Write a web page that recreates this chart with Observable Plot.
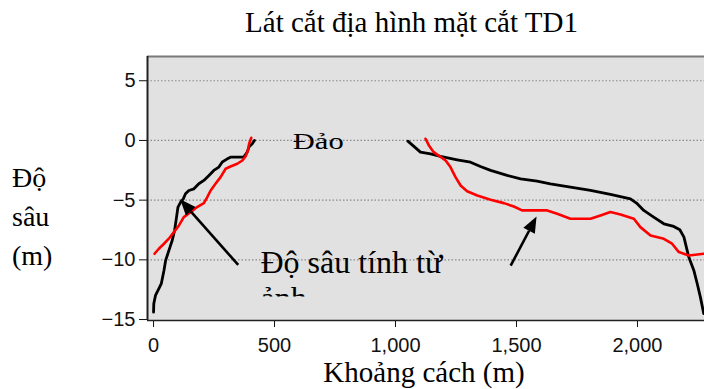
<!DOCTYPE html>
<html>
<head>
<meta charset="utf-8">
<script src="https://cdn.jsdelivr.net/npm/d3@7"></script>
<script src="https://cdn.jsdelivr.net/npm/@observablehq/plot@0.6"></script>
<style>
  body { margin: 0; background: #fff; }
  #wrap { position: relative; width: 704px; height: 389px; overflow: hidden; background: #fff; }
  .serif { position: absolute; font-family: "Liberation Serif", "Times New Roman", serif; color: #000; white-space: nowrap; }
  #title { left: 0; width: 823px; text-align: center; top: 8px; font-size: 29px; line-height: 29px; }
  #xlabel { left: 0; width: 848px; text-align: center; top: 358px; font-size: 29px; line-height: 28px; }
  #ylabel { left: 12px; top: 158px; font-size: 28px; line-height: 39px; }
  #chart { position: absolute; left: 0; top: 0; }
  .serif-svg { font-family: "Liberation Serif", "Times New Roman", serif !important; }
</style>
</head>
<body>
<div id="wrap">
  <div id="chart"></div>
  <div id="title" class="serif">Lát cắt địa hình mặt cắt TD1</div>
  <div id="xlabel" class="serif">Khoảng cách (m)</div>
  <div id="ylabel" class="serif">Độ<br>sâu<br>(m)</div>
</div>
<script>
// ---- data (distance in m, depth in m) ----
const blackLeftX = [0, 1, 8, 22, 32, 43, 50, 59, 68, 77, 87, 95, 101, 112, 123, 132, 146, 167, 187, 208, 229, 249, 270, 284, 305, 318, 373, 387, 394, 408, 417];
const blackLeftY = [-14.38, -13.68, -12.98, -12.42, -12.0, -10.89, -10.05, -9.49, -8.93, -8.38, -7.54, -6.42, -5.58, -5.16, -4.89, -4.47, -4.19, -4.05, -3.63, -3.35, -2.93, -2.51, -2.23, -1.81, -1.54, -1.40, -1.40, -0.98, -0.56, -0.28, 0];

const redLeftX = [4, 22, 43, 63, 84, 105, 125, 153, 180, 208, 222, 236, 256, 277, 298, 318, 346, 367, 380, 390, 395, 404];
const redLeftY = [-9.49, -9.07, -8.65, -8.23, -7.68, -7.12, -6.42, -6.0, -5.58, -5.25, -4.75, -4.19, -3.63, -3.07, -2.37, -2.18, -1.95, -1.68, -1.34, -0.84, -0.28, 0.22];

const blackRightX = [1051, 1076, 1103, 1145, 1186, 1255, 1310, 1351, 1393, 1461, 1517, 1585, 1640, 1723, 1806, 1888, 1971, 1999, 2026, 2067, 2109, 2150, 2175, 2192, 2212, 2233, 2247, 2260, 2274];
const blackRightY = [-0.06, -0.5, -0.98, -1.12, -1.34, -1.62, -1.82, -2.18, -2.51, -2.93, -3.21, -3.41, -3.63, -3.91, -4.19, -4.52, -4.89, -5.3, -5.86, -6.42, -6.98, -7.2, -7.48, -8.1, -9.77, -10.89, -12.0, -13.12, -14.51];

const redRightX = [1124, 1138, 1158, 1207, 1227, 1248, 1269, 1296, 1338, 1393, 1448, 1489, 1523, 1627, 1668, 1723, 1806, 1847, 1888, 1930, 1985, 2012, 2054, 2109, 2143, 2171, 2212, 2274];
const redRightY = [0.14, -0.42, -0.98, -1.68, -2.23, -3.07, -3.77, -4.25, -4.61, -4.97, -5.25, -5.53, -5.86, -5.86, -6.14, -6.56, -6.56, -6.28, -6.0, -6.2, -6.56, -7.26, -7.96, -8.24, -8.65, -9.35, -9.63, -9.49];

const xTicks = [0, 500, 1000, 1500, 2000];
const yTicks = [5, 0, -5, -10, -15];
const gridY = [5, 0, -5, -10];

// annotation arrows (tail -> tip), in data units
const arrowTailX = [352, 1478];
const arrowTailY = [-10.47, -10.53];
const arrowTipX = [112, 1585];
const arrowTipY = [-4.97, -6.42];

const islandLabel = "Đảo";
const annotLine1 = "Độ sâu tính từ";
const annotLine2 = "ảnh";

const xDomain = [-25, 2277];
const yDomain = [-15.08, 7.03];

const toRows = (xs, ys) => xs.map((x, i) => ({x, y: ys[i]}));

const arrowMark = (index, scales) => {
  const g = d3.create("svg:g");
  arrowTailX.forEach((_, i) => {
    const x1 = scales.x(arrowTailX[i]), y1 = scales.y(arrowTailY[i]);
    const x2 = scales.x(arrowTipX[i]), y2 = scales.y(arrowTipY[i]);
    const a = Math.atan2(y2 - y1, x2 - x1), L = 16, W = 6.5;
    const bx = x2 - L * Math.cos(a), by = y2 - L * Math.sin(a);
    g.append("line").attr("x1", x1).attr("y1", y1).attr("x2", bx).attr("y2", by)
      .attr("stroke", "#000").attr("stroke-width", 2.6);
    g.append("path")
      .attr("d", `M${x2},${y2}L${bx + W * Math.sin(a)},${by - W * Math.cos(a)}L${bx - W * Math.sin(a)},${by + W * Math.cos(a)}Z`)
      .attr("fill", "#000");
  });
  return g.node();
};

const islandX = 680, islandY = -0.75;

const chart = Plot.plot({
  width: 704,
  height: 389,
  marginLeft: 147,
  marginRight: 0,
  marginTop: 56,
  marginBottom: 69,
  style: {background: "transparent", fontFamily: "'Liberation Sans', Arial, sans-serif", fontSize: "20px", color: "#111"},
  x: {domain: xDomain, ticks: xTicks, tickFormat: d3.format(","), tickSize: 7, tickPadding: 10, label: null},
  y: {domain: yDomain, ticks: yTicks, tickSize: 8, tickPadding: 4, label: null},
  marks: [
    Plot.frame({fill: "#e1e1e1"}),
    Plot.ruleY(gridY, {stroke: "#8a8a8a", strokeDasharray: "1.5,2", strokeWidth: 1.2}),
    Plot.line(toRows(blackLeftX, blackLeftY), {x: "x", y: "y", stroke: "#000", strokeWidth: 2.8, clip: true}),
    Plot.line(toRows(redLeftX, redLeftY), {x: "x", y: "y", stroke: "#ff0000", strokeWidth: 2.6, clip: true}),
    Plot.line(toRows(blackRightX, blackRightY), {x: "x", y: "y", stroke: "#000", strokeWidth: 2.8, clip: true}),
    Plot.line(toRows(redRightX, redRightY), {x: "x", y: "y", stroke: "#ff0000", strokeWidth: 2.6, clip: true}),
    Plot.ruleY([yDomain[1]], {stroke: "#7a7a7a", strokeWidth: 2}),
    Plot.ruleX([xDomain[0]], {stroke: "#222", strokeWidth: 2}),
    Plot.ruleY([yDomain[0]], {stroke: "#222", strokeWidth: 1.5}),
    Plot.text([islandLabel], {x: islandX, y: islandY, text: d => d, fontSize: 23, fill: "#000", lineAnchor: "bottom", textAnchor: "middle"}),
    Plot.text([annotLine1], {x: 442, y: -11.06, text: d => d, fontSize: 32, fill: "#000", lineAnchor: "bottom", textAnchor: "start"}),
    Plot.text([annotLine2], {x: 442, y: -14.15, text: d => d, fontSize: 32, fill: "#000", lineAnchor: "bottom", textAnchor: "start"}),
    arrowMark
  ]
});

document.getElementById("chart").appendChild(chart);

const svg = d3.select(chart);
const byText = (s) => svg.selectAll("text").filter(function() { return this.textContent === s; });

[islandLabel, annotLine1, annotLine2].forEach(s => {
  byText(s).classed("serif-svg", true)
    .style("font-family", "'Liberation Serif', 'Times New Roman', serif");
});

// stretch island label horizontally like the reference
const cx = chart.scale("x").apply(islandX);
const islandNode = byText(islandLabel).node();
if (islandNode) {
  const wrap = d3.select(islandNode.parentNode);
  const g = svg.append("g").attr("transform", `translate(${cx},0) scale(1.33,1) translate(${-cx},0)`);
  g.node().appendChild(wrap.node());
}

// clip the second annotation line as in the reference
svg.append("defs").append("clipPath").attr("id", "clipAnh")
  .append("rect").attr("x", 0).attr("y", 0).attr("width", 704).attr("height", 296);
const anhNode = byText(annotLine2).node();
if (anhNode) d3.select(anhNode.parentNode).attr("clip-path", "url(#clipAnh)");
</script>
</body>
</html>
